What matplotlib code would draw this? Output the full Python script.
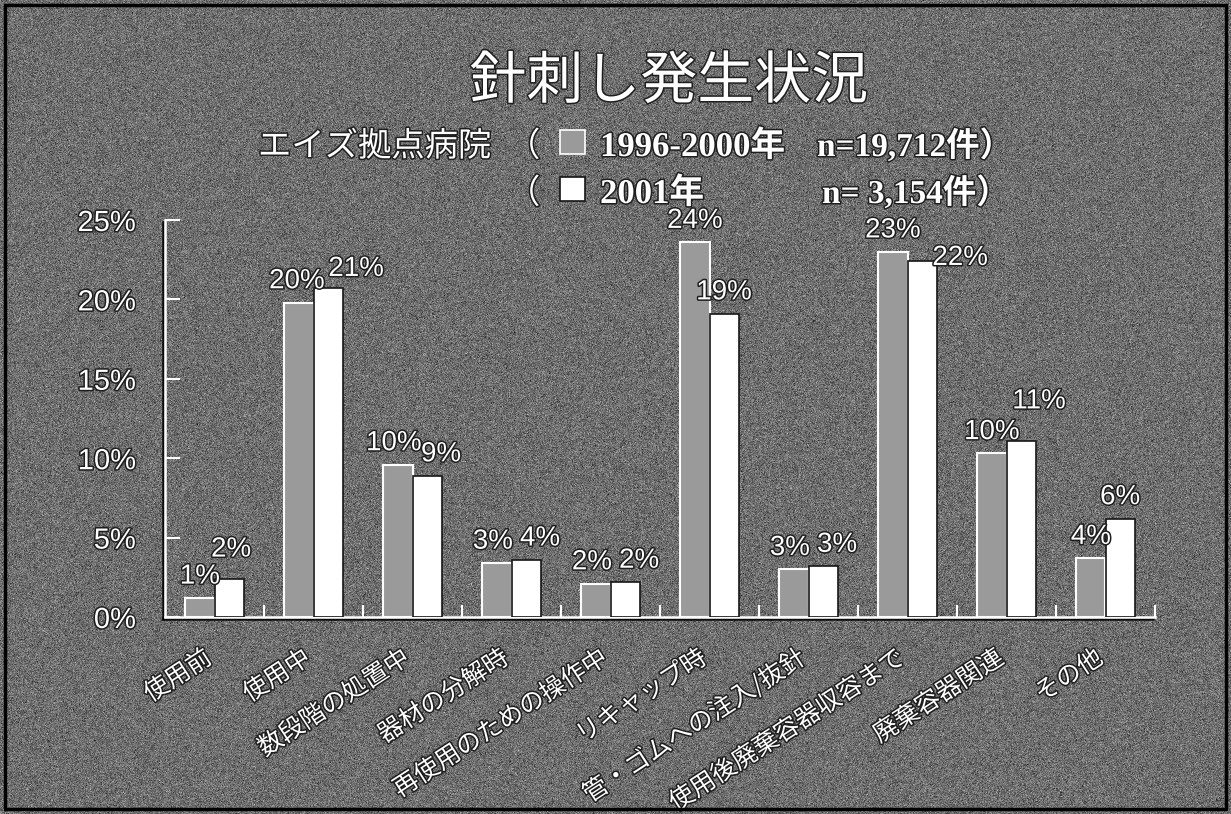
import numpy as np
import matplotlib
matplotlib.use("Agg")
import matplotlib.pyplot as plt
import matplotlib.patheffects as pe
from matplotlib.patches import Rectangle
from matplotlib.transforms import ScaledTranslation

# 針刺し発生状況（エイズ拠点病院）
categories = ["使用前", "使用中", "数段階の処置中", "器材の分解時", "再使用のための操作中",
              "リキャップ時", "管・ゴムへの注入/抜針", "使用後廃棄容器収容まで", "廃棄容器関連", "その他"]
pct_1996_2000 = [1.2, 19.8, 9.6, 3.4, 2.1, 23.6, 3.0, 23.0, 10.3, 3.7]
pct_2001 = [2.4, 20.7, 8.9, 3.6, 2.2, 19.1, 3.2, 22.4, 11.1, 6.2]
yticks = [0, 5, 10, 15, 20, 25]

W, H = 1231, 814
JP = "Noto Sans CJK JP"
SANS = ["Liberation Sans", JP]
SERIF = ["Liberation Serif", JP]
plt.rcParams["font.family"] = SANS

bg = "#6d6d6d"
gray_bar = "#9a9a9a"
outline = [pe.withStroke(linewidth=2.2, foreground="#1e1e1e")]


def fx(px):
    return px / W


def fy(py):
    return 1 - py / H


fig = plt.figure(figsize=(W / 100, H / 100), dpi=100, facecolor=bg)

# grainy slide background
rng = np.random.default_rng(3)
grain = np.clip(110 + rng.normal(0, 22, (H, W)), 0, 255)
fig.figimage(grain, xo=0, yo=0, cmap="gray", vmin=0, vmax=255, zorder=-10)

ax = fig.add_axes([fx(165), 1 - 617 / H, 990 / W, 397 / H])
ax.set_facecolor("none")

x = np.arange(len(categories))
w = 0.295
ax.bar(x - w / 2, pct_1996_2000, w, color=gray_bar, edgecolor="white", linewidth=1.5, zorder=2)
ax.bar(x + w / 2, pct_2001, w, color="white", edgecolor="#151515", linewidth=1.2, zorder=3)

# value labels; nudges (in px) keep neighbouring labels apart
nudge_9600 = [(0, 0), (-2, 0), (-4, 0), (-4, 0), (-4, 0), (0, 0), (-4, 0), (0, 0), (0, 0), (0, 0)]
nudge_2001 = [(2, 8), (28, -2), (14, 0), (14, 0), (14, 0), (0, 0), (14, 0), (38, -18), (18, 18), (0, 0)]
for xi, v, (dx, dy) in zip(x, pct_1996_2000, nudge_9600):
    ax.annotate(f"{v:.0f}%", (xi - w / 2, v), xytext=(dx * 0.72, 6 + dy * 0.72),
                textcoords="offset points", ha="center", va="bottom", color="white",
                fontsize=20, zorder=5, path_effects=outline)
for xi, v, (dx, dy) in zip(x, pct_2001, nudge_2001):
    ax.annotate(f"{v:.0f}%", (xi + w / 2, v), xytext=(dx * 0.72, 6 + dy * 0.72),
                textcoords="offset points", ha="center", va="bottom", color="white",
                fontsize=20, zorder=5, path_effects=outline)

ax.set_xlim(-0.5, 9.5)
ax.set_ylim(0, 25)

for s in ["top", "right"]:
    ax.spines[s].set_visible(False)
for s in ["left", "bottom"]:
    ax.spines[s].set_color("white")
    ax.spines[s].set_linewidth(1.8)
    ax.spines[s].set_path_effects([pe.SimpleLineShadow(offset=(-1.2, -1.2), shadow_color="black", alpha=0.9), pe.Normal()])

ax.set_yticks(yticks)
ax.set_yticklabels([f"{v}%" for v in yticks])
ax.tick_params(axis="y", direction="in", length=11, width=1.5, color="white",
               labelcolor="white", labelsize=21, pad=21)
for t in ax.get_yticklabels():
    t.set_path_effects(outline)

ax.set_xticks(x)
ax.set_xticklabels(categories, rotation=33, ha="right", va="top",
                   rotation_mode="anchor", fontsize=18, color="white", family=JP)
ax.set_xticks(np.arange(0.5, 10, 1), minor=True)
ax.tick_params(axis="x", which="major", length=0, pad=20)
ax.tick_params(axis="x", which="minor", direction="in", length=9, width=1.5, color="white")
shift = ScaledTranslation(-12 / 100, 0, fig.dpi_scale_trans)
for t in ax.get_xticklabels():
    t.set_transform(t.get_transform() + shift)
    t.set_path_effects(outline)

# title and series key
fig.text(fx(669), fy(82), "針刺し発生状況", ha="center", va="center", fontsize=41,
         color="white", family=JP, path_effects=outline)
fig.text(fx(258), fy(156), "エイズ拠点病院", ha="left", va="baseline", fontsize=24,
         color="white", family=JP, path_effects=outline)

key = [
    (156, gray_bar, "white", "1996-2000年", "n=19,712件）", 817),
    (203, "white", "#151515", "2001年", "n= 3,154件）", 822),
]
for base, face, edge, years, count, nx in key:
    fig.text(fx(507), fy(base), "（", ha="left", va="baseline", fontsize=24,
             color="white", family=JP, path_effects=outline)
    fig.add_artist(Rectangle((fx(560), fy(base - 2)), 25 / W, 24 / H, transform=fig.transFigure,
                             facecolor=face, edgecolor=edge, linewidth=1.2))
    fig.text(fx(600), fy(base), years, ha="left", va="baseline", fontsize=25,
             color="white", family=SERIF, weight="bold", path_effects=outline)
    fig.text(fx(nx), fy(base), count, ha="left", va="baseline", fontsize=24,
             color="white", family=SERIF, weight="bold", path_effects=outline)

fig.add_artist(Rectangle((fx(5), 5 / H), 1221 / W, 804 / H, transform=fig.transFigure,
                         fill=False, edgecolor="black", linewidth=2.5))

fig.savefig("out.png", dpi=100, facecolor=bg)
